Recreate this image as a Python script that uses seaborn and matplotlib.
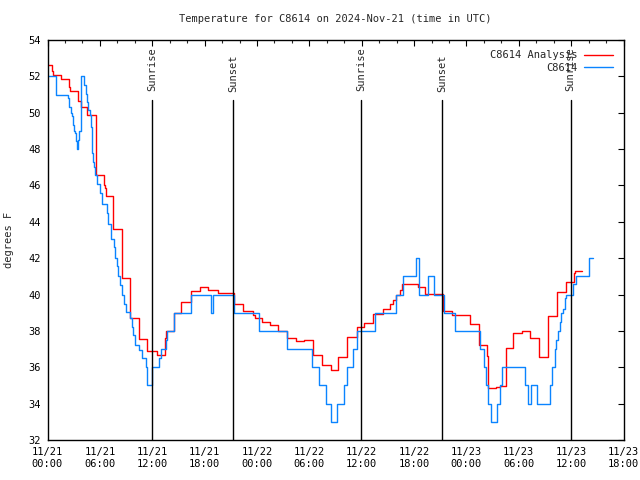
import matplotlib
matplotlib.use('Agg')
import matplotlib.pyplot as plt
import matplotlib.dates as mdates
import seaborn as sns
import pandas as pd

# Analysis series (hours after 11/21 00:00 UTC, degrees F), stepwise
analysis_hours = [0.0, 0.48, 0.60, 1.49, 2.46, 2.58, 3.44, 3.53, 3.80, 4.53,
                  5.50, 6.47, 6.59, 6.70, 7.45, 8.48, 8.57, 9.51, 10.51, 11.42,
                  12.60, 13.41, 13.58, 14.50, 15.35, 16.41, 17.47, 18.43, 19.57, 21.35,
                  22.40, 23.51, 23.78, 24.54, 25.50, 26.45, 27.41, 28.47, 29.39, 30.39,
                  31.42, 32.45, 33.32, 34.35, 35.50, 36.32, 37.33, 38.41, 39.24, 39.59,
                  39.93, 40.39, 40.62, 42.42, 43.26, 45.35, 46.38, 47.38, 48.41, 49.39,
                  50.36, 50.51, 51.39, 51.85, 52.48, 53.37, 54.41, 55.29, 56.35, 57.39,
                  58.38, 59.41, 60.36, 60.44, 61.30]
analysis_temp = [52.6, 52.3, 52.05, 51.85, 51.4, 51.2, 50.8, 50.65, 50.3, 49.9,
                 46.6, 46.0, 45.85, 45.4, 43.6, 41.5, 40.9, 38.7, 37.55, 36.9,
                 36.7, 37.6, 38.0, 39.0, 39.6, 40.2, 40.4, 40.25, 40.1, 39.5,
                 39.1, 38.9, 38.7, 38.5, 38.3, 38.0, 37.6, 37.45, 37.5, 36.7,
                 36.1, 35.85, 36.55, 37.65, 38.2, 38.45, 38.95, 39.2, 39.5, 39.7,
                 40.0, 40.25, 40.6, 40.4, 40.05, 39.1, 38.9, 38.85, 38.4, 37.2,
                 36.6, 34.85, 34.9, 34.95, 37.05, 37.9, 38.0, 37.6, 36.55, 38.8,
                 40.15, 40.7, 41.2, 41.3, 41.3]

# Station observations
obs_hours = [0.0, 0.92, 2.38, 2.50, 2.66, 2.77, 2.96, 3.07, 3.15, 3.27,
             3.35, 3.38, 3.46, 3.58, 3.80, 4.18, 4.38, 4.53, 4.68, 4.84,
             4.95, 5.06, 5.18, 5.33, 5.44, 5.71, 5.96, 6.19, 6.78, 6.97,
             7.24, 7.62, 7.73, 8.00, 8.11, 8.31, 8.57, 8.77, 9.00, 9.45,
             9.65, 9.83, 10.03, 10.52, 10.79, 11.25, 11.37, 12.03, 12.78, 12.97,
             13.58, 13.73, 14.50, 16.41, 18.73, 18.96, 21.37, 24.18, 27.44, 30.31,
             31.11, 31.91, 32.52, 33.21, 33.98, 34.35, 34.97, 35.43, 37.47, 39.97,
             40.74, 42.28, 42.57, 43.60, 44.34, 45.43, 46.64, 49.50, 49.96, 50.19,
             50.53, 50.85, 51.56, 51.85, 52.08, 54.77, 55.09, 55.37, 56.09, 57.55,
             57.75, 58.10, 58.27, 58.53, 58.73, 58.81, 59.10, 59.30, 59.38, 60.27,
             60.52, 62.05, 62.51]
obs_temp = [52.0, 51.0, 50.8, 50.3, 50.0, 49.8, 49.3, 49.0, 48.9, 48.45,
            48.2, 48.0, 48.5, 49.0, 52.0, 51.55, 51.05, 50.6, 50.15, 49.9,
            49.2, 47.8, 47.3, 47.0, 46.6, 46.1, 45.6, 45.0, 44.5, 43.9,
            43.05, 42.6, 42.0, 41.55, 41.0, 40.5, 40.0, 39.5, 39.05, 38.7,
            38.2, 37.8, 37.2, 36.95, 36.5, 36.0, 35.0, 36.0, 36.5, 37.0,
            37.5, 38.0, 39.0, 40.0, 39.0, 40.0, 39.0, 38.0, 37.0, 36.0,
            35.0, 34.0, 33.0, 34.0, 35.0, 36.0, 37.0, 38.0, 39.0, 40.0,
            41.0, 42.0, 40.0, 41.0, 40.0, 39.0, 38.0, 37.0, 36.0, 35.0,
            34.0, 33.0, 34.0, 35.0, 36.0, 35.0, 34.0, 35.0, 34.0, 35.0,
            36.0, 37.0, 37.5, 38.0, 38.5, 39.0, 39.2, 39.8, 40.0, 40.6,
            41.0, 42.0, 42.0]

sunrise_hours = [12.0, 35.97, 59.95]
sunset_hours = [21.28, 45.25]

start = pd.Timestamp('2024-11-21 00:00')
df_a = pd.DataFrame({'time': start + pd.to_timedelta(analysis_hours, unit='h'), 'temp': analysis_temp})
df_o = pd.DataFrame({'time': start + pd.to_timedelta(obs_hours, unit='h'), 'temp': obs_temp})

sns.set_theme(style='white')
plt.rcParams['font.family'] = ['DejaVu Sans Mono']
plt.rcParams['font.size'] = 7.5

fig = plt.figure(figsize=(6.4, 4.8), dpi=100)
ax = fig.add_axes([47.5 / 640, 40 / 480, 576 / 640, 400 / 480])

sns.lineplot(data=df_a, x='time', y='temp', color='#ff0000', drawstyle='steps-post',
             linewidth=1.0, label='C8614 Analysis', ax=ax)
sns.lineplot(data=df_o, x='time', y='temp', color='#0a84ff', drawstyle='steps-post',
             linewidth=1.0, label='C8614', ax=ax)

# sunrise / sunset markers
for h in sunrise_hours:
    t = start + pd.Timedelta(hours=h)
    ax.axvline(t, ymin=0, ymax=0.85, color='black', linewidth=1.0)
    ax.text(t, 53.6, 'Sunrise', rotation=90, ha='center', va='top', fontsize=7.5)
for h in sunset_hours:
    t = start + pd.Timedelta(hours=h)
    ax.axvline(t, ymin=0, ymax=0.85, color='black', linewidth=1.0)
    ax.text(t, 51.15, 'Sunset', rotation=90, ha='center', va='bottom', fontsize=7.5)

ax.set_xlim(start, start + pd.Timedelta(hours=66))
ax.set_ylim(32, 54)
ax.set_yticks(range(32, 55, 2))
ax.xaxis.set_major_locator(mdates.HourLocator(byhour=[0, 6, 12, 18]))
ax.xaxis.set_minor_locator(mdates.HourLocator(byhour=range(0, 24, 2)))
ax.xaxis.set_major_formatter(mdates.DateFormatter('%m/%d\n%H:%M'))
ax.tick_params(which='major', direction='in', length=4, width=0.8, top=True, right=True,
               labelsize=7.5, colors='black', pad=5)
ax.tick_params(which='minor', direction='in', length=2, width=0.8, top=True, right=False)
for s in ax.spines.values():
    s.set_color('black')
    s.set_linewidth(1.0)

ax.set_xlabel('')
ax.set_ylabel('degrees F', fontsize=7.5)
ax.yaxis.set_label_coords(-0.058, 0.5)

fig.text(335.5 / 640, 1 - 19 / 480, 'Temperature for C8614 on 2024-Nov-21 (time in UTC)',
         ha='center', va='center', fontsize=7.5)

ax.legend(loc='upper right', frameon=False, markerfirst=False, handlelength=2.8,
          handletextpad=0.6, labelspacing=0.25, borderaxespad=0.6, fontsize=7.5)

plt.savefig('out.png', dpi=100)
